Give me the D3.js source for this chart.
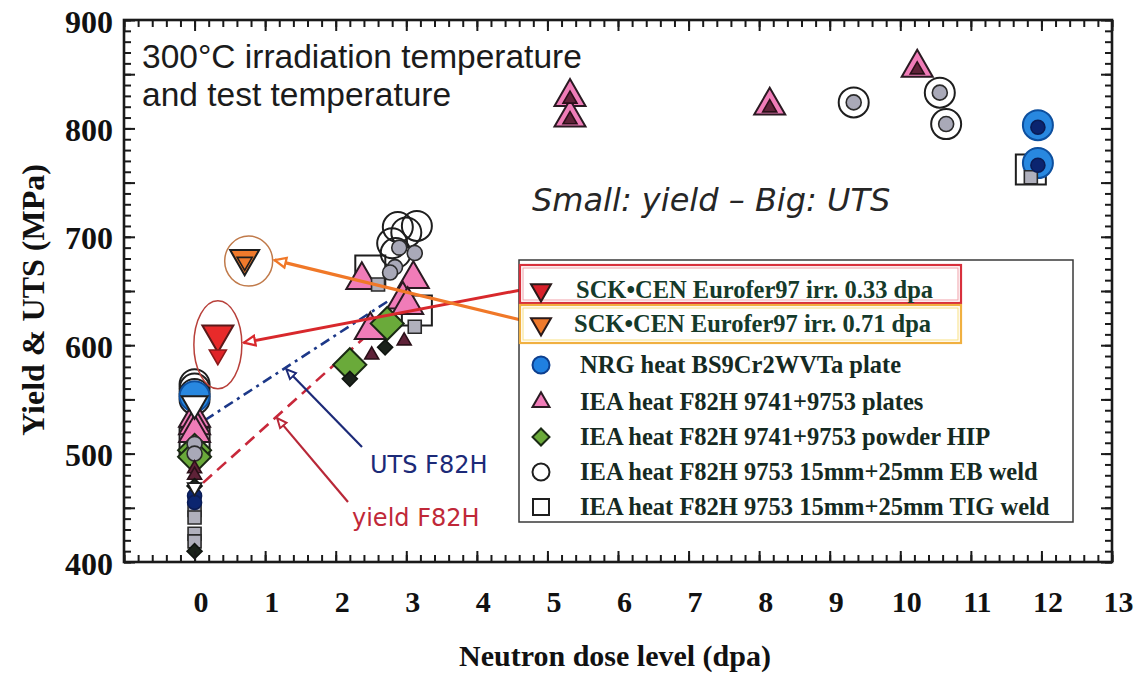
<!DOCTYPE html>
<html><head><meta charset="utf-8">
<script src="https://cdn.jsdelivr.net/npm/d3@7"></script>
<style>body{margin:0;background:#fff}svg{display:block}</style>
</head><body>
<svg id="chart" width="1138" height="675"></svg>
<script>
// ---------- data ----------
const xTickValues = d3.range(0, 14);
const yTickValues = [400, 500, 600, 700, 800, 900];

// SCK•CEN Eurofer97
const sck033Dose = [0.33], sck033Uts = [610], sck033Yield = [591];
const sck071Dose = [0.71], sck071Uts = [680], sck071Yield = [677];
const euroferRefDose = [0], euroferRefUts = [546], euroferRefYield = [469];

// NRG heat BS9Cr2WVTa plate
const nrgUtsDose = [0, 11.95, 11.95], nrgUts = [553, 803, 768];
const nrgYieldDose = [0, 0, 11.95, 11.95], nrgYield = [461, 455, 801, 766];

// IEA heat F82H 9741+9753 plates
const plateUtsDose = [0, 0, 0, 2.37, 3.1, 2.95, 3.02, 2.49, 5.32, 5.32, 8.15, 10.24];
const plateUts = [533, 526, 519, 660, 661, 642, 637, 614, 829, 810, 821, 856];
const plateYieldDose = [0, 0, 2.51, 2.97, 5.32, 5.32, 8.15, 10.24];
const plateYield = [486, 480, 591, 604, 827, 808, 819, 854];

// IEA heat F82H 9741+9753 powder HIP
const hipUtsDose = [0, 0, 2.2, 2.73], hipUts = [503, 497, 582, 620];
const hipYieldDose = [0, 0, 2.2, 2.7], hipYield = [470, 410, 569, 598];

// IEA heat F82H 9753 EB weld
const ebUtsDose = [0, 0, 0, 0, 2.88, 3.15, 3.0, 2.8, 2.85, 9.34, 10.56, 10.65];
const ebUts = [564, 560, 555, 550, 709, 710, 704, 694, 685, 824, 833, 804];
const ebYieldDose = [0, 0, 2.9, 3.12, 2.84, 2.77, 9.34, 10.56, 10.65];
const ebYield = [509, 500, 690, 685, 672, 667, 824, 833, 804];

// IEA heat F82H 9753 TIG weld
const tigUtsDose = [0, 2.49, 3.15, 11.85], tigUts = [510, 669, 632, 762];
const tigYieldDose = [0, 0, 0, 0, 2.6, 3.12, 11.85], tigYield = [448, 441, 426, 419, 656, 617, 755];

// trend lines for F82H
const utsTrendDose = [0.15, 2.75], utsTrend = [531, 641];
const yieldTrendDose = [0.12, 2.73], yieldTrend = [473, 626];

const legendLabels = [
  "SCK\u2022CEN Eurofer97 irr. 0.33 dpa",
  "SCK\u2022CEN Eurofer97 irr. 0.71 dpa",
  "NRG heat BS9Cr2WVTa plate",
  "IEA heat F82H 9741+9753 plates",
  "IEA heat F82H 9741+9753 powder HIP",
  "IEA heat F82H 9753 15mm+25mm EB weld",
  "IEA heat F82H 9753 15mm+25mm TIG weld"
];

// ---------- setup ----------
const svg = d3.select("#chart");
const W = 1138, H = 675;
const plot = {left: 124, right: 1112, top: 20, bottom: 562};
const x = d3.scaleLinear().domain([-1, 13]).range([plot.left, plot.right]);
const y = d3.scaleLinear().domain([400, 900]).range([plot.bottom, plot.top]);

svg.append("rect").attr("width", W).attr("height", H).attr("fill", "#fff");

const defs = svg.append("defs");
function arrowMarker(id, color, size) {
  defs.append("marker").attr("id", id)
    .attr("viewBox", "0 0 10 10").attr("refX", 9).attr("refY", 5)
    .attr("markerWidth", size).attr("markerHeight", size)
    .attr("markerUnits", "userSpaceOnUse")
    .attr("orient", "auto")
    .append("path").attr("d", "M1,1.5 L9,5 L1,8.5 Z")
    .attr("fill", "#fff").attr("stroke", color).attr("stroke-width", 1.6);
}
arrowMarker("arRed", "#d8282c", 14);
arrowMarker("arOrange", "#f07828", 14);
arrowMarker("arNavy", "#1c2a78", 12);
arrowMarker("arDkRed", "#b82838", 12);

// symbol paths by nominal width
function shapePath(shape, w) {
  if (shape === "circle") return d3.symbol(d3.symbolCircle, Math.PI * (w / 2) ** 2)();
  if (shape === "square") return d3.symbol(d3.symbolSquare, w * w)();
  if (shape === "diamond") { const s = w / Math.SQRT2; return d3.symbol(d3.symbolSquare, s * s)(); }
  return d3.symbol(d3.symbolTriangle, Math.sqrt(3) / 4 * w * w)();
}
function shapeRot(shape) {
  if (shape === "diamond") return 45;
  if (shape === "triDown") return 180;
  return 0;
}

// ---------- annotations (text) ----------
const sansFont = "'Liberation Sans', Arial, sans-serif";
svg.append("text").attr("x", 142).attr("y", 68)
  .style("font", `33.5px ${sansFont}`).attr("fill", "#1b1b1b")
  .text("300\u00B0C irradiation temperature");
svg.append("text").attr("x", 142).attr("y", 106)
  .style("font", `33.5px ${sansFont}`).attr("fill", "#1b1b1b")
  .text("and test temperature");
svg.append("text").attr("x", 532).attr("y", 211)
  .style("font", "italic 32px 'DejaVu Sans', sans-serif").attr("fill", "#262626")
  .text("Small: yield \u2013 Big: UTS");

// ---------- trend lines ----------
const line = d3.line().x(d => x(d[0])).y(d => y(d[1]));
svg.append("path").datum(d3.zip(utsTrendDose, utsTrend)).attr("d", line)
  .attr("fill", "none").attr("stroke", "#1c3888").attr("stroke-width", 2.6)
  .attr("stroke-dasharray", "10,5,3,5");
svg.append("path").datum(d3.zip(yieldTrendDose, yieldTrend)).attr("d", line)
  .attr("fill", "none").attr("stroke", "#c8283a").attr("stroke-width", 2.6)
  .attr("stroke-dasharray", "12,7");

// ---------- markers ----------
const seriesList = [
  {shape: "circle", uts: d3.zip(ebUtsDose, ebUts), yld: d3.zip(ebYieldDose, ebYield),
   bigFill: "none", bigStroke: "#1e1e1e", smallFill: "#a9a9b8", smallStroke: "#2a2a2a", big: 30, small: 15},
  {shape: "square", uts: d3.zip(tigUtsDose, tigUts), yld: d3.zip(tigYieldDose, tigYield),
   bigFill: "none", bigStroke: "#1e1e1e", smallFill: "#b0b0bc", smallStroke: "#2a2a2a", big: 30, small: 13},
  {shape: "circle", uts: d3.zip(nrgUtsDose, nrgUts), yld: d3.zip(nrgYieldDose, nrgYield),
   bigFill: "#2888e0", bigStroke: "#0d4f9e", smallFill: "#0b2570", smallStroke: "#0a1c55", big: 30, small: 14},
  {shape: "triUp", uts: d3.zip(plateUtsDose, plateUts), yld: d3.zip(plateYieldDose, plateYield),
   bigFill: "#f07cb8", bigStroke: "#2a1a22", smallFill: "#5e2238", smallStroke: "#2a1018", big: 31, small: 14},
  {shape: "diamond", uts: d3.zip(hipUtsDose, hipUts), yld: d3.zip(hipYieldDose, hipYield),
   bigFill: "#6aaa3a", bigStroke: "#1a2a14", smallFill: "#1a221a", smallStroke: "#101510", big: 33, small: 15},
  {shape: "triDown", uts: d3.zip(euroferRefDose, euroferRefUts), yld: d3.zip(euroferRefDose, euroferRefYield),
   bigFill: "#fff", bigStroke: "#1e1e1e", smallFill: "#fff", smallStroke: "#1e1e1e", big: 26, small: 14},
  {shape: "triDown", uts: d3.zip(sck033Dose, sck033Uts), yld: d3.zip(sck033Dose, sck033Yield),
   bigFill: "#e82a2a", bigStroke: "#5a1a1a", smallFill: "#e02428", smallStroke: "#8a1a1a", big: 31, small: 17},
  {shape: "triDown", uts: d3.zip(sck071Dose, sck071Uts), yld: d3.zip(sck071Dose, sck071Yield),
   bigFill: "#f07a2c", bigStroke: "#1e1e1e", smallFill: "#f07a2c", smallStroke: "#1e1e1e", big: 29, small: 15}
];

const markLayer = svg.append("g");
seriesList.forEach(s => {
  markLayer.append("g").selectAll("path").data(s.uts).join("path")
    .attr("d", shapePath(s.shape, s.big))
    .attr("transform", d => `translate(${x(d[0])},${y(d[1])}) rotate(${shapeRot(s.shape)})`)
    .attr("fill", s.bigFill).attr("stroke", s.bigStroke).attr("stroke-width", 2);
});
seriesList.forEach(s => {
  markLayer.append("g").selectAll("path").data(s.yld).join("path")
    .attr("d", shapePath(s.shape, s.small))
    .attr("transform", d => `translate(${x(d[0])},${y(d[1])}) rotate(${shapeRot(s.shape)})`)
    .attr("fill", s.smallFill).attr("stroke", s.smallStroke).attr("stroke-width", 1.6);
});

// ---------- highlight ellipses and pointers ----------
const e033 = {cx: x(sck033Dose[0]), cy: y((sck033Uts[0] + sck033Yield[0]) / 2), rx: 24, ry: 44};
const e071 = {cx: x(sck071Dose[0]) + 4, cy: y((sck071Uts[0] + sck071Yield[0]) / 2) + 1, rx: 24, ry: 25};
svg.append("ellipse").attr("cx", e033.cx).attr("cy", e033.cy).attr("rx", e033.rx).attr("ry", e033.ry)
  .attr("fill", "none").attr("stroke", "#b8403a").attr("stroke-width", 1.5);
svg.append("ellipse").attr("cx", e071.cx).attr("cy", e071.cy).attr("rx", e071.rx).attr("ry", e071.ry)
  .attr("fill", "none").attr("stroke", "#c07a4a").attr("stroke-width", 1.5);

// legend box geometry
const lg = {x: 519, y: 260, w: 554, h: 262};
const rowY = [290, 324, 365, 402, 437, 472, 507];

svg.append("line").attr("x1", lg.x + 2).attr("y1", rowY[0]).attr("x2", e033.cx + e033.rx + 2).attr("y2", e033.cy - 2)
  .attr("stroke", "#d8282c").attr("stroke-width", 3).attr("marker-end", "url(#arRed)");
svg.append("line").attr("x1", lg.x + 2).attr("y1", rowY[1] - 4).attr("x2", e071.cx + e071.rx + 2).attr("y2", e071.cy - 1)
  .attr("stroke", "#f07828").attr("stroke-width", 3.2).attr("marker-end", "url(#arOrange)");

// trend labels with pointers
const utsPt = [1.3, utsTrend[0] + (1.3 - utsTrendDose[0]) * (utsTrend[1] - utsTrend[0]) / (utsTrendDose[1] - utsTrendDose[0])];
const yldPt = [1.17, yieldTrend[0] + (1.17 - yieldTrendDose[0]) * (yieldTrend[1] - yieldTrend[0]) / (yieldTrendDose[1] - yieldTrendDose[0])];
svg.append("line").attr("x1", 362).attr("y1", 447).attr("x2", x(utsPt[0])).attr("y2", y(utsPt[1]) + 2)
  .attr("stroke", "#1c2a78").attr("stroke-width", 2.2).attr("marker-end", "url(#arNavy)");
svg.append("line").attr("x1", 348).attr("y1", 502).attr("x2", x(yldPt[0])).attr("y2", y(yldPt[1]) + 2)
  .attr("stroke", "#b82838").attr("stroke-width", 2.2).attr("marker-end", "url(#arDkRed)");
svg.append("text").attr("x", 370).attr("y", 473)
  .style("font", "24px 'DejaVu Sans', sans-serif").attr("fill", "#1c2a78").text("UTS F82H");
svg.append("text").attr("x", 352).attr("y", 526)
  .style("font", "24px 'DejaVu Sans', sans-serif").attr("fill", "#c02838").text("yield F82H");

// ---------- legend ----------
const legend = svg.append("g");
legend.append("rect").attr("x", lg.x).attr("y", lg.y).attr("width", lg.w).attr("height", lg.h)
  .attr("fill", "#fff").attr("stroke", "#3a3a3a").attr("stroke-width", 1.5);
legend.append("rect").attr("x", 520).attr("y", 265).attr("width", 441).attr("height", 38)
  .attr("fill", "none").attr("stroke", "#d8303c").attr("stroke-width", 2.2);
legend.append("rect").attr("x", 523).attr("y", 268).attr("width", 435).attr("height", 32)
  .attr("fill", "none").attr("stroke", "#f0a0a8").attr("stroke-width", 1);
legend.append("rect").attr("x", 520).attr("y", 305).attr("width", 441).attr("height", 38)
  .attr("fill", "none").attr("stroke", "#f0b040").attr("stroke-width", 2.2);
legend.append("rect").attr("x", 523).attr("y", 308).attr("width", 435).attr("height", 32)
  .attr("fill", "none").attr("stroke", "#f8e080").attr("stroke-width", 1);

const legendMarks = [
  {shape: "triDown", fill: "#d8202a", stroke: "#2a1a1a", w: 20},
  {shape: "triDown", fill: "#f07a2c", stroke: "#2a1a1a", w: 20},
  {shape: "circle", fill: "#2080e0", stroke: "#0d3f8e", w: 17},
  {shape: "triUp", fill: "#f07cb8", stroke: "#2a1a22", w: 17},
  {shape: "diamond", fill: "#6aaa3a", stroke: "#1a2a14", w: 17},
  {shape: "circle", fill: "#fff", stroke: "#1e1e1e", w: 17},
  {shape: "square", fill: "#fff", stroke: "#1e1e1e", w: 16}
];
const textX = [576, 574, 580, 580, 580, 580, 580];
legendLabels.forEach((lab, i) => {
  const m = legendMarks[i];
  legend.append("path").attr("d", shapePath(m.shape, m.w))
    .attr("transform", `translate(541,${rowY[i]}) rotate(${shapeRot(m.shape)})`)
    .attr("fill", m.fill).attr("stroke", m.stroke).attr("stroke-width", 2);
  legend.append("text").attr("x", textX[i]).attr("y", rowY[i] + 8)
    .style("font", "bold 24.5px 'Liberation Serif', 'Times New Roman', serif")
    .attr("fill", i < 2 ? "#153a2a" : "#152a22").text(lab);
});

// ---------- frame and ticks ----------
const serif = "'Liberation Serif', 'Times New Roman', serif";
const xMinor = d3.range(-1, 13.001, 0.2).map(v => +v.toFixed(1));
const yMinor = d3.range(400, 901, 10);
const y50 = d3.range(400, 901, 50);

function tickGroup(axis, transform) {
  const g = svg.append("g").attr("transform", transform).call(axis);
  g.select(".domain").remove();
  g.selectAll(".tick line").attr("stroke", "#1a1a1a").attr("stroke-width", 2);
  return g;
}
// minor ticks on all sides (inward)
tickGroup(d3.axisBottom(x).tickValues(xMinor).tickSize(-7).tickFormat(""), `translate(0,${plot.bottom})`);
tickGroup(d3.axisTop(x).tickValues(xMinor).tickSize(-7).tickFormat(""), `translate(0,${plot.top})`);
tickGroup(d3.axisLeft(y).tickValues(yMinor).tickSize(-7).tickFormat(""), `translate(${plot.left},0)`);
tickGroup(d3.axisRight(y).tickValues(yMinor).tickSize(-7).tickFormat(""), `translate(${plot.right},0)`);
tickGroup(d3.axisBottom(x).tickValues(d3.range(-1, 14)).tickSize(-11).tickFormat(""), `translate(0,${plot.bottom})`);
tickGroup(d3.axisTop(x).tickValues(d3.range(-1, 14)).tickSize(-11).tickFormat(""), `translate(0,${plot.top})`);
tickGroup(d3.axisLeft(y).tickValues(y50).tickSize(-11).tickFormat(""), `translate(${plot.left},0)`);
tickGroup(d3.axisRight(y).tickValues(y50).tickSize(-11).tickFormat(""), `translate(${plot.right},0)`);

// labelled axes
const xAx = tickGroup(d3.axisBottom(x).tickValues(xTickValues).tickSize(0).tickPadding(29).tickFormat(d3.format("d")),
  `translate(0,${plot.bottom})`);
xAx.selectAll("text").style("font", `bold 30px ${serif}`).attr("fill", "#111").attr("dx", 6);
const yAx = tickGroup(d3.axisLeft(y).tickValues(yTickValues).tickSize(0).tickPadding(11).tickFormat(d3.format("d")),
  `translate(${plot.left},0)`);
yAx.selectAll("text").style("font", `bold 32px ${serif}`).attr("fill", "#111").attr("dy", "0.38em");

svg.append("rect").attr("x", plot.left).attr("y", plot.top)
  .attr("width", plot.right - plot.left).attr("height", plot.bottom - plot.top)
  .attr("fill", "none").attr("stroke", "#1a1a1a").attr("stroke-width", 2.6);

// axis titles
svg.append("text").attr("x", 615).attr("y", 666).attr("text-anchor", "middle")
  .style("font", `bold 30px ${serif}`).attr("fill", "#111")
  .text("Neutron dose level (dpa)");
svg.append("text").attr("transform", "translate(44,300) rotate(-90)").attr("text-anchor", "middle")
  .style("font", `bold 32px ${serif}`).attr("fill", "#111")
  .text("Yield & UTS (MPa)");
</script>
</body></html>
